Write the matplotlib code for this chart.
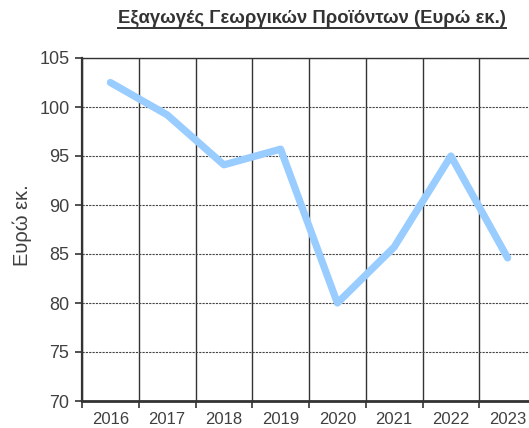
import matplotlib
matplotlib.use("Agg")
import matplotlib.pyplot as plt
from matplotlib.lines import Line2D
import numpy as np

plt.rcParams['font.family'] = ['Liberation Sans', 'DejaVu Sans']

# data
years = ['2016', '2017', '2018', '2019', '2020', '2021', '2022', '2023']
exports = [102.5, 99.2, 94.1, 95.7, 80.0, 85.7, 95.0, 84.6]
y_ticks = [70, 75, 80, 85, 90, 95, 100, 105]

title = 'Εξαγωγές Γεωργικών Προϊόντων (Ευρώ εκ.)'
ylabel = 'Ευρώ εκ.'

fig = plt.figure(figsize=(5.29, 4.28), dpi=100, facecolor='white')
ax = fig.add_axes([82/529, 1 - 401/428, (536 - 82)/529, (401 - 58)/428])

x = np.arange(len(years))
ax.plot(x, exports, color='#99ccff', linewidth=5.2, solid_capstyle='round',
        solid_joinstyle='round', zorder=3)

ax.set_xlim(-0.5, len(years) - 0.5)
ax.set_ylim(70, 105)
ax.set_yticks(y_ticks)
ax.set_xticks(x)
ax.set_xticklabels(years)

# category boundaries carry the vertical grid and tick marks
ax.set_xticks(np.arange(len(years) + 1) - 0.5, minor=True)
ax.tick_params(axis='x', which='major', length=0, pad=8, labelsize=12, labelcolor='#404040')
ax.tick_params(axis='x', which='minor', length=5, width=1.2, color='#333333', direction='out')
ax.tick_params(axis='y', length=5, width=1.2, color='#333333', pad=4, labelsize=13,
               labelcolor='#404040')
ax.grid(True, axis='x', which='minor', color='#333333', linewidth=1.0, linestyle='-')
ax.grid(True, axis='y', which='major', color='#444444', linewidth=0.8,
        linestyle=(0, (2, 1)))

for side in ['left', 'bottom']:
    ax.spines[side].set_color('#333333')
ax.spines['left'].set_linewidth(1.6)
ax.spines['bottom'].set_linewidth(2.0)
ax.spines['top'].set_color('#333333')
ax.spines['top'].set_linewidth(1.0)
ax.spines['right'].set_visible(False)

fig.text(22/529, 1 - 225/428, ylabel, rotation=90, ha='center', va='center',
         fontsize=14.5, color='#404040')

t = fig.text(312/529, 1 - 18/428, title, ha='center', va='center',
             fontsize=13.3, fontweight='bold', color='#333333')

# underline the title
fig.canvas.draw()
bb = t.get_window_extent(renderer=fig.canvas.get_renderer())
uy = (bb.y0 - 1) / fig.bbox.height
fig.add_artist(Line2D([bb.x0 / fig.bbox.width, bb.x1 / fig.bbox.width], [uy, uy],
                      transform=fig.transFigure, color='#333333', linewidth=1.4))

fig.savefig('out.png', dpi=100, facecolor='white')
